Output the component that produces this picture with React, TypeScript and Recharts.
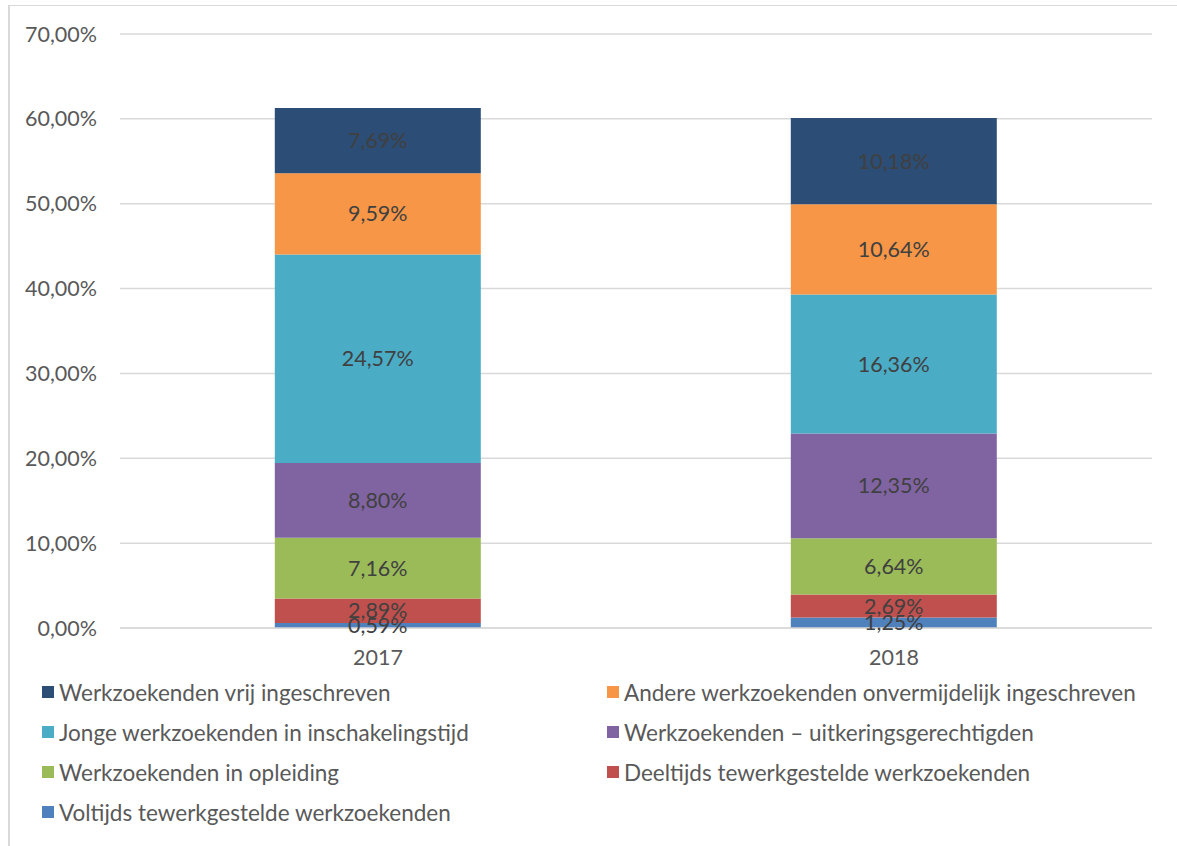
import { BarChart, Bar, XAxis, YAxis, CartesianGrid, Legend, LabelList } from "recharts";

// Jaren op de x-as
const years = ["2017", "2018"];

// Reeksen, van onder naar boven gestapeld
const voltijds = [0.59, 1.25];
const deeltijds = [2.89, 2.69];
const opleiding = [7.16, 6.64];
const uitkering = [8.8, 12.35];
const jonge = [24.57, 16.36];
const andere = [9.59, 10.64];
const vrij = [7.69, 10.18];

const yTicks = [0, 10, 20, 30, 40, 50, 60, 70];

const series = [
  { key: "voltijds", name: "Voltijds tewerkgestelde werkzoekenden", values: voltijds, color: "#4F81BD" },
  { key: "deeltijds", name: "Deeltijds tewerkgestelde werkzoekenden", values: deeltijds, color: "#C0504D" },
  { key: "opleiding", name: "Werkzoekenden in opleiding", values: opleiding, color: "#9BBB59" },
  { key: "uitkering", name: "Werkzoekenden \u2013 uitkeringsgerechtigden", values: uitkering, color: "#8064A2" },
  { key: "jonge", name: "Jonge werkzoekenden in inschakelingstijd", values: jonge, color: "#4BACC6" },
  { key: "andere", name: "Andere werkzoekenden onvermijdelijk ingeschreven", values: andere, color: "#F79646" },
  { key: "vrij", name: "Werkzoekenden vrij ingeschreven", values: vrij, color: "#2C4D75" },
];

const data = years.map((year, i) => {
  const row: Record<string, string | number> = { year };
  series.forEach((s) => {
    row[s.key] = s.values[i];
  });
  return row;
});

const FONT = "Lato, 'Open Sans', sans-serif";

function pct(v: number): string {
  return `${v.toFixed(2).replace(".", ",")}%`;
}

// Legende in twee kolommen, bovenste reeks eerst
function LegendGrid() {
  const items = [...series].reverse();
  return (
    <div
      style={{
        display: "grid",
        gridTemplateColumns: "565px 560px",
        marginTop: -4,
        paddingLeft: 42,
        fontFamily: FONT,
        fontSize: 22.5,
        color: "#595959",
        whiteSpace: "nowrap",
      }}
    >
      {items.map((s) => (
        <div key={s.key} style={{ display: "flex", alignItems: "center", height: 40 }}>
          <span
            style={{ width: 12, height: 12, background: s.color, marginRight: 5, display: "inline-block", flex: "none" }}
          />
          <span>{s.name}</span>
        </div>
      ))}
    </div>
  );
}

export default function App() {
  return (
    <div style={{ position: "absolute", left: 0, top: 0, width: 1177, height: 846, background: "#fff" }}>
      <div
        style={{
          position: "absolute",
          left: 8,
          top: 5,
          width: 1200,
          height: 900,
          borderTop: "1px solid #D9D9D9",
          borderLeft: "2px solid #D9D9D9",
        }}
      />
      <BarChart
        width={1177}
        height={846}
        data={data}
        margin={{ top: 34, right: 25, bottom: 0, left: 0 }}
        barCategoryGap="30%"
        style={{ fontFamily: FONT }}
      >
        <CartesianGrid vertical={false} stroke="#D9D9D9" strokeWidth={1.5} />
        <XAxis
          dataKey="year"
          height={48}
          tickLine={false}
          axisLine={{ stroke: "#D9D9D9", strokeWidth: 1.5 }}
          tickMargin={16}
          tick={{ fill: "#595959", fontSize: 21.5 }}
        />
        <YAxis
          width={120}
          domain={[0, 70]}
          ticks={yTicks}
          tickFormatter={pct}
          axisLine={false}
          tickLine={false}
          tickMargin={17}
          tick={{ fill: "#595959", fontSize: 21.5 }}
        />
        <Legend verticalAlign="bottom" height={170} content={() => <LegendGrid />} />
        {series.map((s) => (
          <Bar key={s.key} dataKey={s.key} name={s.name} stackId="a" fill={s.color} isAnimationActive={false}>
            <LabelList dataKey={s.key} position="center" formatter={(v: number) => pct(v)} fill="#404040" fontSize={21.5} />
          </Bar>
        ))}
      </BarChart>
    </div>
  );
}
